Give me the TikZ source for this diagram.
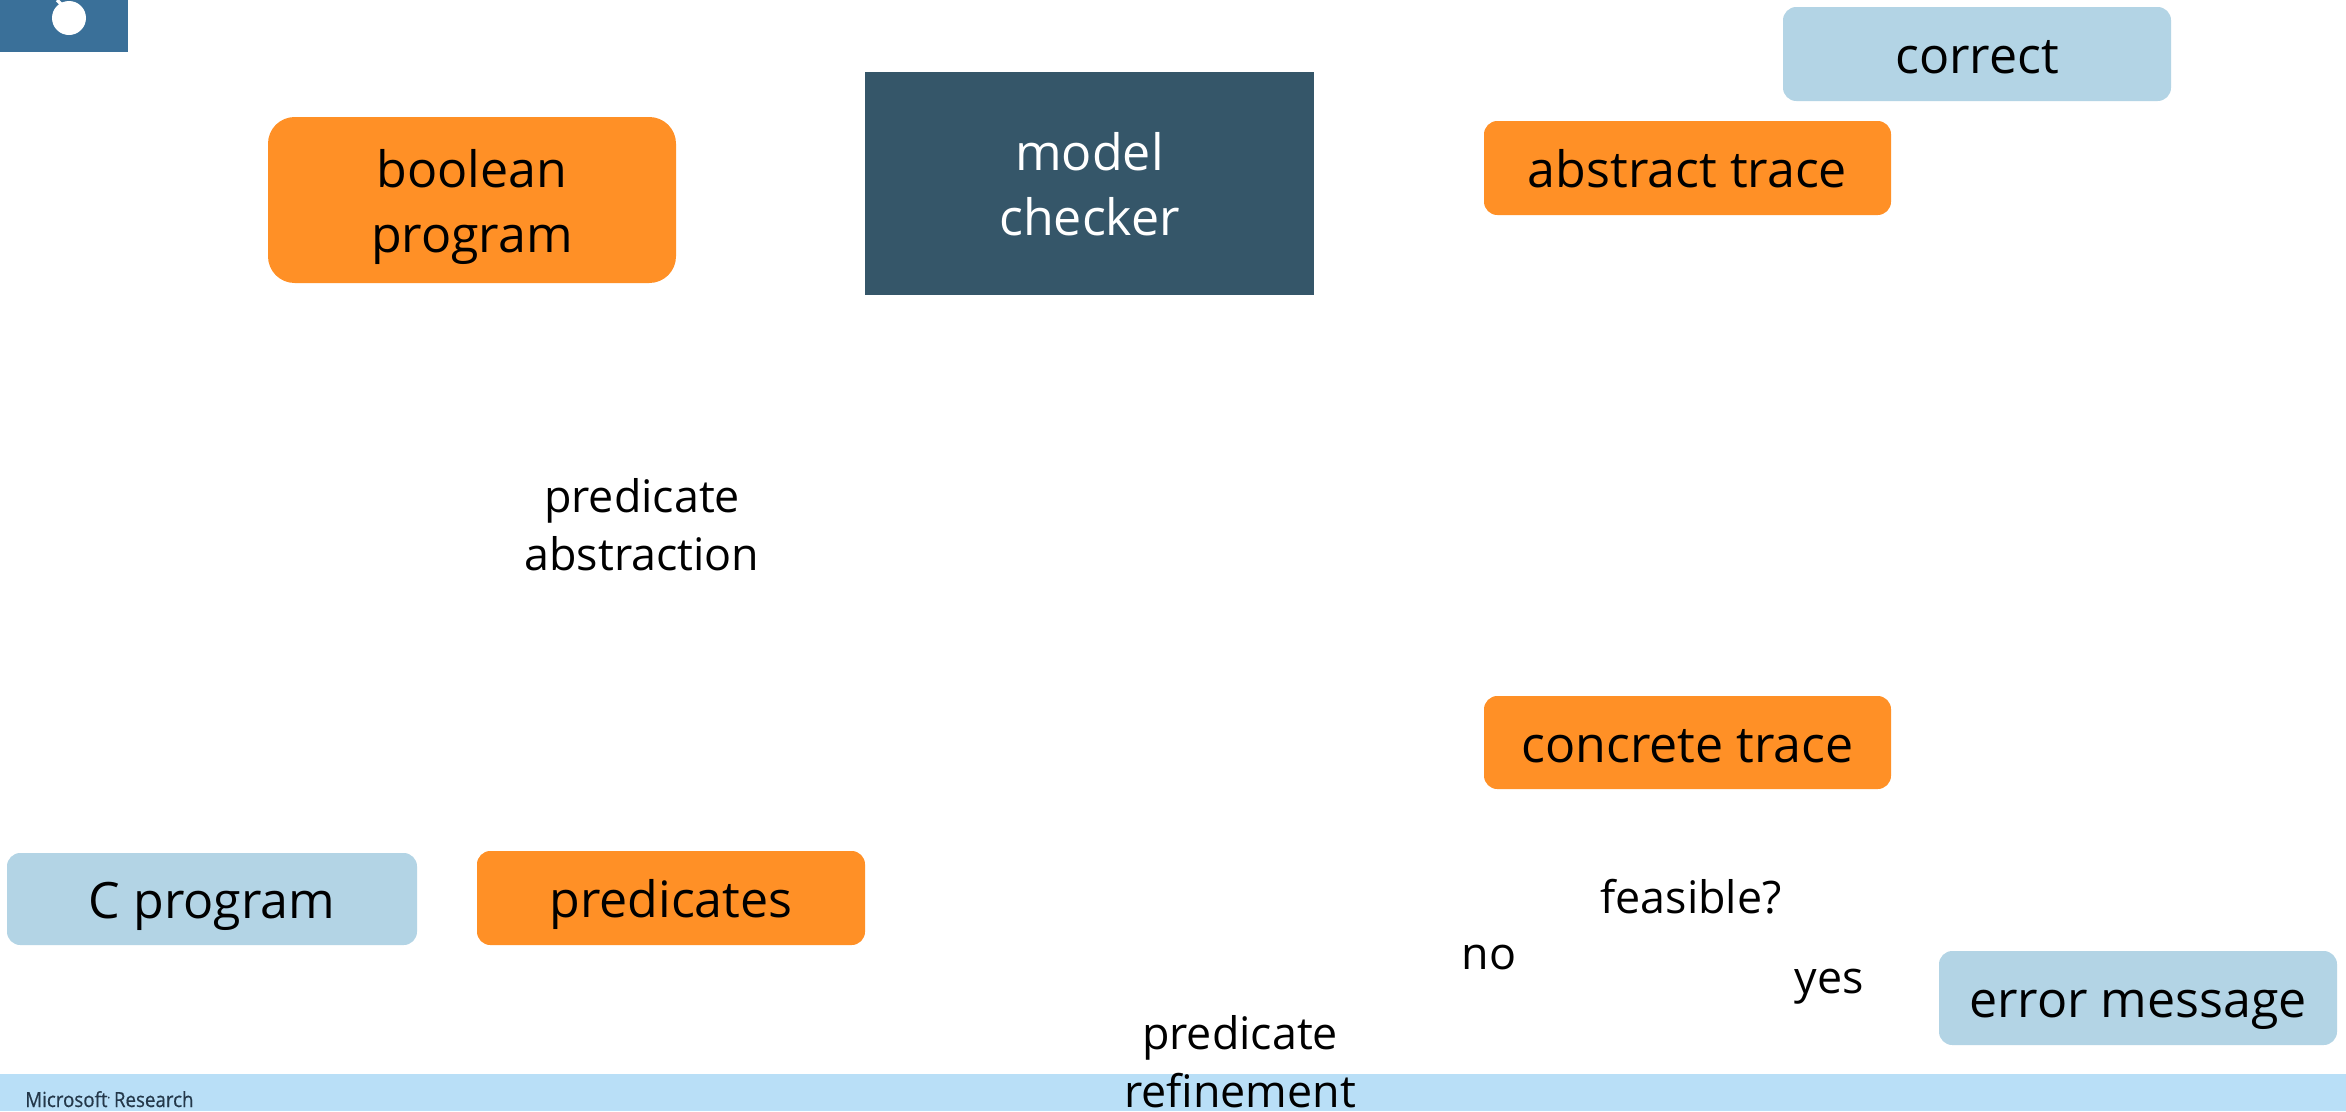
\documentclass[tikz,border=0pt]{standalone}
\usepackage{fontspec}
\setmainfont{Open Sans}
\newcommand{\bigtxt}{\fontsize{37.6}{48.75}\selectfont}
\newcommand{\midtxt}{\fontsize{33.6}{43.5}\selectfont}
\newcommand{\bs}{\rule[-9.75pt]{0pt}{48.75pt}}
\newcommand{\ls}{\rule[-9.5pt]{0pt}{43.5pt}}
\definecolor{orangebox}{HTML}{FF9026}
\definecolor{bluebox}{HTML}{B3D4E5}
\definecolor{darkbox}{HTML}{355669}
\definecolor{footerband}{HTML}{B9DFF7}
\definecolor{iconblue}{HTML}{3A7099}
\definecolor{msrtext}{HTML}{24384A}
\tikzset{
  x=0.75pt,y=-0.75pt,
  orangenode/.style={fill=orangebox,rounded corners=10pt,inner sep=0pt,text=black,align=center,font=\bigtxt},
  bignode/.style={orangenode,rounded corners=20pt},
  bluenode/.style={fill=bluebox,rounded corners=10pt,inner sep=0pt,text=black,align=center,font=\bigtxt},
  darknode/.style={fill=darkbox,inner sep=0pt,text=white,align=center,font=\bigtxt},
  labelnode/.style={inner sep=0pt,text=black,align=center,font=\midtxt},
  singlelabel/.style={inner sep=0pt,text=black,anchor=base,font=\midtxt},
}
\newcommand{\boxnode}[7]{% style,name,x0,y0,x1,y1,text
  \node[#1,minimum width=(#5-#3)*0.75pt,minimum height=(#6-#4)*0.75pt] (#2) at ({(#3+#5)/2},{(#4+#6)/2}) {#7};}
\begin{document}
\begin{tikzpicture}
\useasboundingbox (0,0) rectangle (2346,1111);
\fill[white] (0,0) rectangle (2346,1111);
% corner icon
\fill[iconblue] (0,0) rectangle (128,52);
\draw[white,line width=2.5pt] (57,0) -- (64,7);
\fill[white] (69,18) circle[radius=17];
% footer
\fill[footerband] (0,1074) rectangle (2346,1111);
\node[inner sep=0pt,anchor=base west,font=\fontsize{15.6}{17}\selectfont,text=msrtext] (msr) at (25,1107) {\addfontfeature{FakeBold=0.5,FakeStretch=0.9}Microsoft\textsuperscript{\tiny\textbullet}\,Research};
% boxes
\boxnode{bluenode}{correct}{1783}{7}{2171}{101}{\bs correct}
\boxnode{bignode}{boolprog}{268}{117}{676}{283}{\bs boolean\\\bs program}
\boxnode{darknode}{checker}{865}{72}{1314}{295}{\bs model\\\bs checker}
\boxnode{orangenode}{abstract}{1484}{121}{1891}{215}{\bs abstract trace}
\boxnode{orangenode}{concrete}{1484}{696}{1891}{789}{\bs concrete trace}
\boxnode{bluenode}{cprog}{7}{853}{417}{945}{\bs C program}
\boxnode{orangenode}{preds}{477}{851}{865}{945}{\bs predicates}
\boxnode{bluenode}{errmsg}{1939}{951}{2337}{1045}{\bs error message}
% labels
\node[labelnode] (predabs) at (642,525.5) {\ls predicate\\\ls abstraction};
\node[singlelabel] (feasible) at (1691,913) {feasible?};
\node[singlelabel] (no) at (1489,969) {no};
\node[singlelabel] (yes) at (1829,993) {yes};
\node[labelnode] (predref) at (1240,1062) {\ls predicate\\\ls refinement};
\end{tikzpicture}
\end{document}
